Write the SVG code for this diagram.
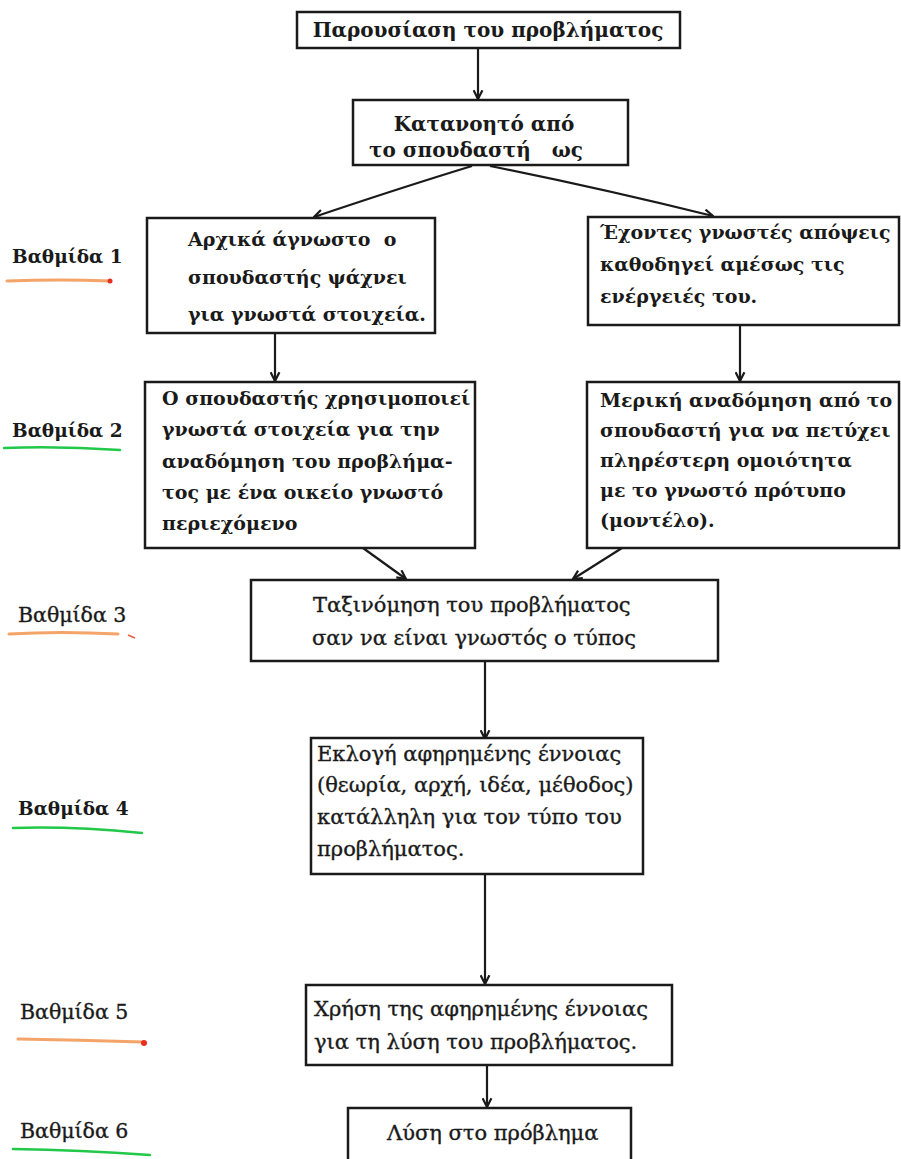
<svg xmlns="http://www.w3.org/2000/svg" width="901" height="1159" viewBox="0 0 901 1159">
<defs>
<style>
.box{fill:#fff;stroke:#1a1a1a;stroke-width:2.5}
.b{font-family:"DejaVu Serif","Noto Serif",serif;font-weight:bold;font-size:19px;fill:#1a1a1a;white-space:pre}
.r{font-family:"DejaVu Serif","Noto Serif",serif;font-weight:normal;font-size:21px;fill:#1a1a1a;stroke:#1a1a1a;stroke-width:0.35;white-space:pre}
.lb{font-family:"DejaVu Serif",serif;font-weight:bold;font-size:18.5px;fill:#1a1a1a}
.lr{font-family:"DejaVu Serif",serif;font-weight:normal;font-size:20.5px;fill:#1a1a1a;stroke:#1a1a1a;stroke-width:0.35}
.con{fill:none;stroke:#1a1a1a;stroke-width:2.2;marker-end:url(#arr)}
.uo{fill:none;stroke:#f4a468;stroke-width:3;stroke-linecap:round}
.ug{fill:none;stroke:#22c84a;stroke-width:2.5;stroke-linecap:round}
</style>
<marker id="arr" viewBox="0 0 10 10" refX="9" refY="5" markerWidth="5" markerHeight="5" orient="auto" markerUnits="strokeWidth">
<path d="M1,1 L9,5 L1,9" fill="none" stroke="#1a1a1a" stroke-width="2"/>
</marker>
</defs>
<rect width="901" height="1159" fill="#fff"/>

<g id="connectors">
<line class="con" x1="478" y1="48" x2="478" y2="99"/>
<path class="con" d="M472,166 Q400,188 314,217"/>
<path class="con" d="M490,166 Q600,188 713,216"/>
<line class="con" x1="275" y1="333" x2="275" y2="381"/>
<line class="con" x1="740" y1="325" x2="740" y2="381"/>
<line class="con" x1="363" y1="548" x2="406" y2="579"/>
<line class="con" x1="622" y1="548" x2="573" y2="579"/>
<line class="con" x1="485" y1="661" x2="485" y2="739"/>
<line class="con" x1="485" y1="874" x2="485" y2="984"/>
<line class="con" x1="487" y1="1065" x2="487" y2="1107"/>
</g>

<g id="n1">
<rect class="box" x="297" y="12" width="383" height="36"/>
<text class="b" x="488" y="37" text-anchor="middle" style="font-size:20px">Παρουσίαση του προβλήματος</text>
</g>

<g id="n2">
<rect class="box" x="353" y="100" width="275" height="65"/>
<text class="b" x="484" y="131" text-anchor="middle" style="font-size:20px">Κατανοητό από</text>
<text class="b" x="476" y="157" text-anchor="middle" style="font-size:20px">το σπουδαστή   ως</text>
</g>

<g id="n3">
<rect class="box" x="147" y="218" width="288" height="115"/>
<text class="b" x="188" y="246">Αρχικά άγνωστο  ο</text>
<text class="b" x="188" y="284">σπουδαστής ψάχνει</text>
<text class="b" x="188" y="321">για γνωστά στοιχεία.</text>
</g>

<g id="n4">
<rect class="box" x="588" y="217" width="311" height="108"/>
<text class="b" x="600" y="239">Έχοντες γνωστές απόψεις</text>
<text class="b" x="600" y="271">καθοδηγεί αμέσως τις</text>
<text class="b" x="600" y="303">ενέργειές του.</text>
</g>

<g id="n5">
<rect class="box" x="145" y="382" width="330" height="166"/>
<text class="b" x="162" y="405">Ο σπουδαστής χρησιμοποιεί</text>
<text class="b" x="162" y="436">γνωστά στοιχεία για την</text>
<text class="b" x="162" y="468">αναδόμηση του προβλήμα-</text>
<text class="b" x="162" y="499">τος με ένα οικείο γνωστό</text>
<text class="b" x="162" y="530">περιεχόμενο</text>
</g>

<g id="n6">
<rect class="box" x="587" y="382" width="312" height="166"/>
<text class="b" x="600" y="407">Μερική αναδόμηση από το</text>
<text class="b" x="600" y="437">σπουδαστή για να πετύχει</text>
<text class="b" x="600" y="467">πληρέστερη ομοιότητα</text>
<text class="b" x="600" y="497">με το γνωστό πρότυπο</text>
<text class="b" x="600" y="527">(μοντέλο).</text>
</g>

<g id="n7">
<rect class="box" x="251" y="580" width="467" height="81"/>
<text class="r" x="313" y="612">Ταξινόμηση του προβλήματος</text>
<text class="r" x="312" y="645">σαν να είναι γνωστός ο τύπος</text>
</g>

<g id="n8">
<rect class="box" x="311" y="738" width="332" height="136"/>
<text class="r" x="317" y="761">Εκλογή αφηρημένης έννοιας</text>
<text class="r" x="317" y="792">(θεωρία, αρχή, ιδέα, μέθοδος)</text>
<text class="r" x="317" y="824">κατάλληλη για τον τύπο του</text>
<text class="r" x="317" y="856">προβλήματος.</text>
</g>

<g id="n9">
<rect class="box" x="306" y="985" width="366" height="80"/>
<text class="r" x="314" y="1016">Χρήση της αφηρημένης έννοιας</text>
<text class="r" x="314" y="1049">για τη λύση του προβλήματος.</text>
</g>

<g id="n10">
<rect class="box" x="348" y="1108" width="283" height="60"/>
<text class="r" x="387" y="1140">Λύση στο πρόβλημα</text>
</g>

<g id="labels">
<text class="lb" x="12" y="263">Βαθμίδα 1</text>
<path class="uo" d="M7,281 Q60,279 110,281"/>
<circle cx="110" cy="281" r="2.5" fill="#e83020"/>
<text class="lb" x="12" y="437">Βαθμίδα 2</text>
<path class="ug" d="M4,448 Q60,446 120,450"/>
<text class="lr" x="18" y="622">Βαθμίδα 3</text>
<path class="uo" d="M9,634 Q60,631 118,634"/>
<path d="M128,635 L135,638" stroke="#e86040" stroke-width="1.5" fill="none"/>
<text class="lb" x="18" y="815">Βαθμίδα 4</text>
<path class="ug" d="M13,828 Q70,826 142,833"/>
<text class="lr" x="20" y="1019">Βαθμίδα 5</text>
<path class="uo" d="M18,1039 Q80,1040 143,1042"/>
<circle cx="144" cy="1043" r="3" fill="#e83020"/>
<text class="lr" x="20" y="1138">Βαθμίδα 6</text>
<path class="ug" d="M13,1149 Q80,1150 150,1155"/>
</g>
</svg>
